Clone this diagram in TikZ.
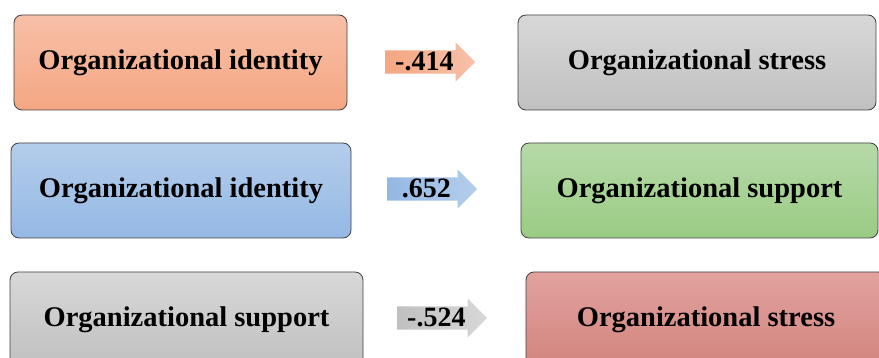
\documentclass[tikz,border=0pt]{standalone}
\usepackage{fontspec}
\setmainfont{Liberation Serif}
\usepackage{tikz}
\usetikzlibrary{shapes.arrows, positioning}
\definecolor{salmonA}{HTML}{F8C0A8}
\definecolor{salmonB}{HTML}{F4A682}
\definecolor{blueA}{HTML}{B4CDEC}
\definecolor{blueB}{HTML}{94B8E4}
\definecolor{greyA}{HTML}{D8D8D8}
\definecolor{greyB}{HTML}{C0C0C0}
\definecolor{greenA}{HTML}{B6DAA7}
\definecolor{greenB}{HTML}{9ACB84}
\definecolor{redA}{HTML}{E2A29E}
\definecolor{redB}{HTML}{D2847E}
\definecolor{edgegrey}{HTML}{404040}

\begin{document}
\begin{tikzpicture}[x=1pt,y=-1pt,
    varbox/.style={rectangle,rounded corners=8pt,draw=edgegrey,line width=0.8pt,
        minimum height=95pt,font=\fontsize{28.5}{31}\selectfont\bfseries},
    coefarrow/.style={single arrow,single arrow head extend=8pt,minimum height=90pt,
        text height=18pt,text depth=1pt,inner xsep=4pt,inner ysep=2pt,anchor=tail,
        font=\fontsize{28}{31}\selectfont\bfseries}]
    \useasboundingbox (0,0) rectangle (879,358);
    \clip (0,0) rectangle (879,358);

    % Riga 1
    \node[varbox,minimum width=333pt,top color=salmonA,bottom color=salmonB] (ident1) at (180.5,62.5) {Organizational identity};
    \node[varbox,minimum width=358pt,top color=greyA,bottom color=greyB] (stress1) at (697,62.5) {Organizational stress};
    \node[coefarrow,left color=salmonB,right color=salmonA] (coef1) at (385,62) {-.414};

    % Riga 2
    \node[varbox,minimum width=340pt,top color=blueA,bottom color=blueB] (ident2) at (181,190.5) {Organizational identity};
    \node[varbox,minimum width=357pt,top color=greenA,bottom color=greenB] (support2) at (699.5,190.5) {Organizational support};
    \node[coefarrow,left color=blueB,right color=blueA] (coef2) at (387,189) {.652};

    % Riga 3
    \node[varbox,minimum width=353pt,top color=greyA,bottom color=greyB] (support3) at (186.5,319.5) {Organizational support};
    \node[varbox,minimum width=360pt,top color=redA,bottom color=redB] (stress3) at (706,319.5) {Organizational stress};
    \node[coefarrow,left color=greyB,right color=greyA] (coef3) at (397,318) {-.524};
\end{tikzpicture}
\end{document}
